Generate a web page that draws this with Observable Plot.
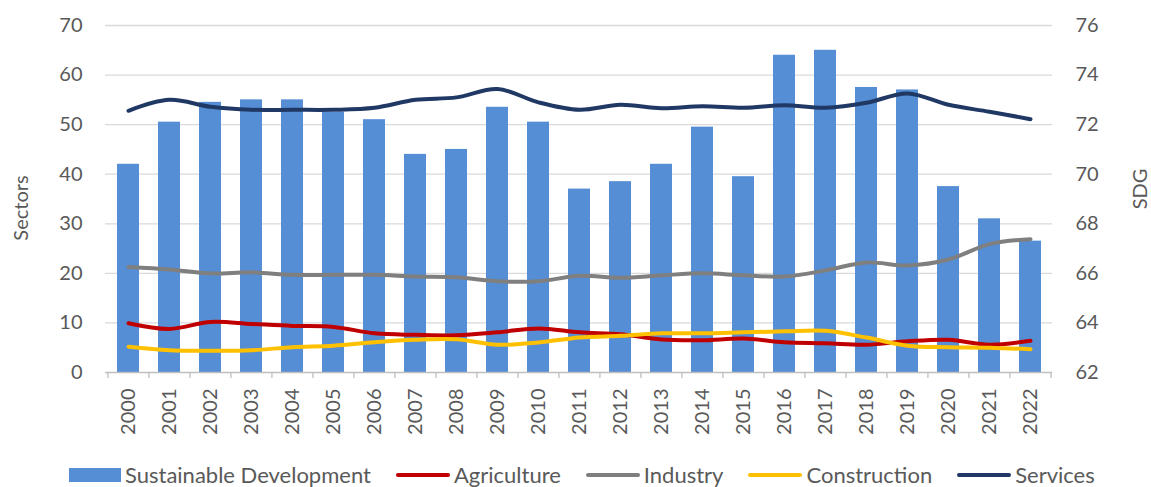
<!DOCTYPE html>
<html>
<head>
<meta charset="utf-8">
<script src="https://cdn.jsdelivr.net/npm/d3@7"></script>
<script src="https://cdn.jsdelivr.net/npm/@observablehq/plot@0.6"></script>
<style>
  html, body { margin: 0; padding: 0; background: #fff; overflow: hidden; }
  #wrap { width: 1151px; height: 487px; position: relative; font-family: Lato, sans-serif; }
  #chart svg { display: block; }
  #legend { display: flex; align-items: center; gap: 25px; padding-left: 69px; height: 50px; font-size: 22px; line-height: 1; color: #595959; }
  .item { display: flex; align-items: center; gap: 4px; }
  .sw-rect { width: 52px; height: 14px; }
  .sw-line { width: 54px; height: 4px; border-radius: 2px; }
</style>
</head>
<body>
<div id="wrap"><div id="chart"></div><div id="legend"></div></div>
<script>
const years = ["2000","2001","2002","2003","2004","2005","2006","2007","2008","2009","2010","2011","2012","2013","2014","2015","2016","2017","2018","2019","2020","2021","2022"];
const sdg = [70.4, 72.1, 72.9, 73.0, 73.0, 72.5, 72.2, 70.8, 71.0, 72.7, 72.1, 69.4, 69.7, 70.4, 71.9, 69.9, 74.8, 75.0, 73.5, 73.4, 69.5, 68.2, 67.3];
const agriculture = [9.95, 8.8, 10.2, 9.8, 9.4, 9.2, 7.9, 7.6, 7.5, 8.1, 8.9, 8.1, 7.7, 6.65, 6.5, 6.85, 6.1, 5.9, 5.6, 6.3, 6.6, 5.6, 6.4];
const industry = [21.3, 20.8, 20.0, 20.2, 19.7, 19.7, 19.7, 19.35, 19.2, 18.4, 18.4, 19.5, 19.1, 19.6, 20.0, 19.6, 19.35, 20.6, 22.2, 21.6, 22.8, 25.9, 26.9];
const construction = [5.2, 4.5, 4.4, 4.5, 5.1, 5.4, 6.1, 6.6, 6.7, 5.6, 6.05, 7.05, 7.4, 7.9, 7.9, 8.1, 8.3, 8.4, 7.05, 5.4, 5.1, 5.0, 4.7];
const services = [52.8, 55.0, 53.6, 53.0, 53.0, 53.0, 53.4, 55.0, 55.5, 57.2, 54.5, 53.0, 54.0, 53.3, 53.7, 53.4, 53.9, 53.4, 54.4, 56.3, 54.0, 52.6, 51.1];
const leftTicks = [0, 10, 20, 30, 40, 50, 60, 70];
const rightTicks = [62, 64, 66, 68, 70, 72, 74, 76];
const sdgMin = 62, sdgMax = 76, leftMax = 70;

const toLeft = v => (v - sdgMin) * leftMax / (sdgMax - sdgMin);
const toRight = v => sdgMin + v * (sdgMax - sdgMin) / leftMax;

const seriesDefs = [
  {name: "Agriculture", values: agriculture, color: "#C00000"},
  {name: "Industry", values: industry, color: "#7F7F7F"},
  {name: "Construction", values: construction, color: "#FFC000"},
  {name: "Services", values: services, color: "#1F3864"}
];
const bars = years.map((y, i) => ({year: y, v: toLeft(sdg[i])}));
const lines = seriesDefs.flatMap(s => years.map((y, i) => ({year: y, series: s.name, v: s.values[i]})));

const W = 1151, H = 450, mL = 105, mR = 99, mT = 25, mB = 78;
const step = (W - mL - mR) / years.length;
const textColor = "#595959";

const chart = Plot.plot({
  width: W, height: H,
  marginLeft: mL, marginRight: mR, marginTop: mT, marginBottom: mB,
  style: {fontFamily: "Lato, sans-serif", fontSize: "20px", color: textColor, background: "#fff"},
  x: {type: "band", domain: years, paddingInner: 0.47, paddingOuter: 0.235},
  y: {domain: [0, leftMax]},
  color: {domain: seriesDefs.map(s => s.name), range: seriesDefs.map(s => s.color)},
  marks: [
    Plot.ruleY(leftTicks.filter(d => d > 0), {stroke: "#D9D9D9", strokeWidth: 1.3}),
    Plot.barY(bars, {x: "year", y: "v", fill: "#558ED5"}),
    Plot.ruleY([0], {stroke: "#BFBFBF", strokeWidth: 1.3}),
    Plot.ruleX(years, {x: d => d, y1: 0, y2: 0, insetBottom: -6, dx: -step / 2, stroke: "#BFBFBF", strokeWidth: 1.3}),
    Plot.ruleX([years[years.length - 1]], {x: d => d, y1: 0, y2: 0, insetBottom: -6, dx: step / 2, stroke: "#BFBFBF", strokeWidth: 1.3}),
    Plot.line(lines, {x: "year", y: "v", z: "series", stroke: "series", strokeWidth: 4, curve: "catmull-rom", strokeLinecap: "round", strokeLinejoin: "round"}),
    Plot.axisY(leftTicks, {anchor: "left", tickSize: 0, tickPadding: 23, label: null, fill: textColor}),
    Plot.axisY(rightTicks.map(toLeft), {anchor: "right", tickSize: 0, tickPadding: 23, label: null, tickFormat: d => String(Math.round(toRight(d))), fill: textColor}),
    Plot.axisX({anchor: "bottom", tickSize: 0, tickPadding: 16, tickRotate: -90, label: null, fill: textColor}),
    Plot.text(["Sectors"], {frameAnchor: "left", textAnchor: "middle", rotate: -90, dx: -84, dy: 9, fill: textColor, fontSize: 20}),
    Plot.text(["SDG"], {frameAnchor: "right", textAnchor: "middle", rotate: -90, dx: 88, dy: -10, fill: textColor, fontSize: 20})
  ]
});
document.getElementById("chart").appendChild(chart);

const legend = document.getElementById("legend");
const legendItems = [{name: "Sustainable Development", color: "#558ED5", rect: true}].concat(seriesDefs);
for (const it of legendItems) {
  const el = document.createElement("div");
  el.className = "item";
  const sw = document.createElement("div");
  sw.className = it.rect ? "sw-rect" : "sw-line";
  sw.style.background = it.color;
  const t = document.createElement("span");
  t.textContent = it.name;
  el.appendChild(sw); el.appendChild(t);
  legend.appendChild(el);
}
</script>
</body>
</html>
